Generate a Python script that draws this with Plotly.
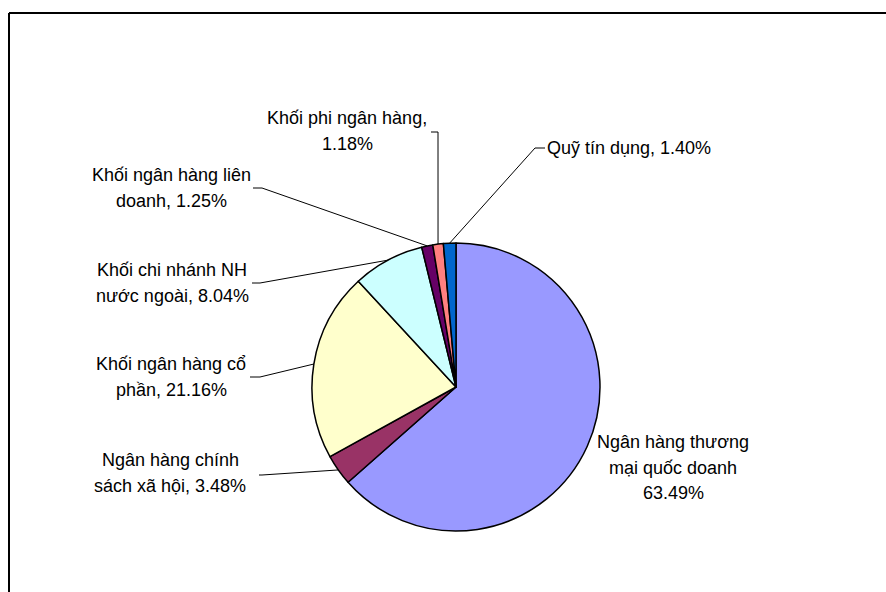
import math
import plotly.graph_objects as go

W, H = 886, 592

labels = ["Ngân hàng thương mại quốc doanh", "Ngân hàng chính sách xã hội",
          "Khối ngân hàng cổ phần", "Khối chi nhánh NH nước ngoài",
          "Khối ngân hàng liên doanh", "Khối phi ngân hàng", "Quỹ tín dụng"]
values = [63.49, 3.48, 21.16, 8.04, 1.25, 1.18, 1.40]
colors = ["#9999FF", "#993366", "#FFFFCC", "#CCFFFF", "#660066", "#FF8080", "#0066CC"]

# label text lines (percent appended from values)
label_lines = [
    ["Ngân hàng thương", "mại quốc doanh", "{p}"],
    ["Ngân hàng chính", "sách xã hội, {p}"],
    ["Khối ngân hàng cổ", "phần, {p}"],
    ["Khối chi nhánh NH", "nước ngoài, {p}"],
    ["Khối ngân hàng liên", "doanh, {p}"],
    ["Khối phi ngân hàng,", "{p}"],
    ["Quỹ tín dụng, {p}"],
]

# layout (pixels)
CX, CY, R = 456, 387, 144
label_pos = [  # (x, first line y, anchor)
    (673, 442, "center"),
    (170, 460, "center"),
    (171, 364, "center"),
    (172, 270, "center"),
    (171, 175, "center"),
    (347, 118, "center"),
    (545, 148, "left"),
]
LINE_H = 25.5
leaders = [  # (start, elbow) in pixels; None for no leader
    None,
    ((259, 475), (262, 475)),
    ((250, 377), (260, 377)),
    ((252, 283), (260, 283)),
    ((253, 188), (262, 188)),
    ((431, 132), (438, 132)),
    ((545, 148), (535, 148)),
]

def px(x):
    return x / W

def py(y):
    return 1 - y / H

fig = go.Figure(go.Pie(
    labels=labels, values=values, sort=False, direction="clockwise", rotation=0,
    marker=dict(colors=colors, line=dict(color="black", width=1.5)),
    textinfo="none", hoverinfo="label+percent", showlegend=False,
    domain=dict(x=[px(CX - R), px(CX + R)], y=[py(CY + R), py(CY - R)]),
))

annotations = []
shapes = []
total = sum(values)
cum = 0.0
for i, v in enumerate(values):
    mid = (cum + v / 2) / total
    cum += v
    ang = 2 * math.pi * mid
    ex, ey = CX + R * math.sin(ang), CY - R * math.cos(ang)
    x0, y0, anchor = label_pos[i]
    for j, ln in enumerate(label_lines[i]):
        annotations.append(dict(
            x=px(x0), y=py(y0 + j * LINE_H), xref="paper", yref="paper",
            text=ln.format(p=f"{v:.2f}%"), showarrow=False,
            xanchor=anchor, yanchor="middle",
            font=dict(family="Arial, Liberation Sans, sans-serif", size=18, color="black"),
        ))
    if leaders[i]:
        (sx, sy), (bx, by) = leaders[i]
        path = f"M {px(sx)},{py(sy)} L {px(bx)},{py(by)} L {px(ex)},{py(ey)}"
        shapes.append(dict(type="path", path=path, xref="paper", yref="paper",
                           line=dict(color="black", width=1)))

# chart frame (top and left edges visible)
shapes.append(dict(type="line", xref="paper", yref="paper",
                   x0=px(9), y0=py(13), x1=1, y1=py(13), line=dict(color="black", width=2)))
shapes.append(dict(type="line", xref="paper", yref="paper",
                   x0=px(9), y0=py(13), x1=px(9), y1=0, line=dict(color="black", width=2)))

fig.update_layout(
    width=W, height=H, margin=dict(l=0, r=0, t=0, b=0),
    paper_bgcolor="white", plot_bgcolor="white",
    annotations=annotations, shapes=shapes,
)
fig.write_html("out.html", config={"displayModeBar": False},
               post_script="document.body.style.margin='0';document.body.style.overflow='hidden';")
